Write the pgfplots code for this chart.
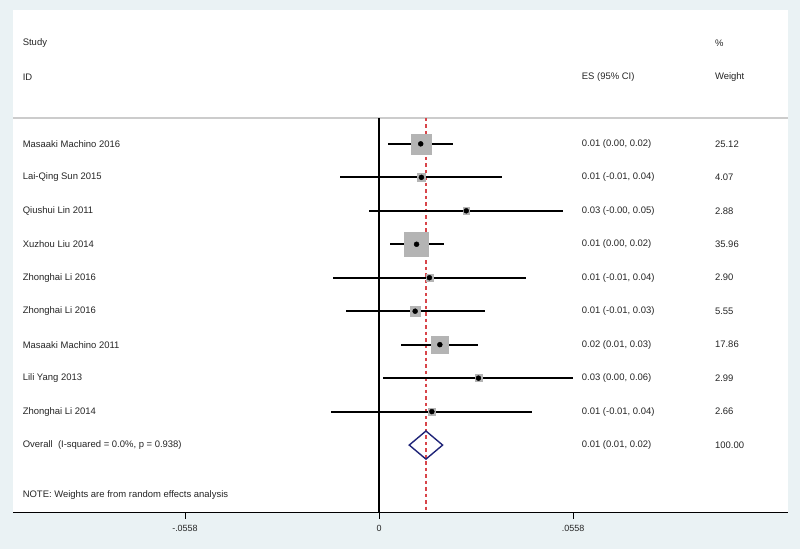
\documentclass[border=0pt]{standalone}
\usepackage{pgfplots}
\pgfplotsset{compat=1.18}
\usepackage{pgfplotstable}
\usepackage{fontspec}
\setmainfont{Liberation Sans}

\definecolor{bgblue}{HTML}{EAF2F4}
\definecolor{boxgray}{HTML}{B4B4B4}
\definecolor{refred}{HTML}{D8454A}
\definecolor{dianavy}{HTML}{1F2478}
\definecolor{txt}{HTML}{262626}

% row est lo hi weight
\pgfplotstableread{
row est lo hi w
1 0.0120 0.0027 0.0214 25.12
2 0.0122 -0.0112 0.0355 4.07
3 0.0251 -0.0028 0.0530 2.88
4 0.0108 0.0032 0.0187 35.96
5 0.0145 -0.0133 0.0423 2.90
6 0.0104 -0.0096 0.0305 5.55
7 0.0175 0.0063 0.0286 17.86
8 0.0286 0.0012 0.0559 2.99
9 0.0152 -0.0139 0.0440 2.66
}\studies

\newcommand{\tf}{\fontsize{9.5}{11}\selectfont}

\begin{document}
\begin{tikzpicture}
\fill[bgblue] (0,0) rectangle (800bp,549bp);
\useasboundingbox (0,0) rectangle (800bp,549bp);
\begin{axis}[
    at={(13bp,37bp)}, anchor=south west,
    width=775bp, height=502bp, scale only axis,
    xmin=-0.10526, xmax=0.11763,
    ymin=-12, ymax=3,
    axis background/.style={fill=white},
    axis x line*=bottom,
    axis y line=none,
    axis line style={black, line width=1pt},
    xtick={-0.0558,0,0.0558},
    xticklabels={-.0558,0,.0558},
    xtick align=outside,
    major tick length=7bp,
    tick style={black, line width=0.8pt},
    xticklabel style={font=\fontsize{9}{10}\selectfont, text=txt, yshift=-3bp},
    /pgf/number format/assume math mode=true,
    ytick=\empty,
    clip=false,
]
% separator line and reference lines
\addplot[black!20, line width=1.2pt] coordinates {(-0.10526,-0.227) (0.11763,-0.227)};
\addplot[black, line width=1.1pt] coordinates {(0,-0.227) (0,-12)};
\addplot[draw=refred, line width=1.3pt, dash pattern=on 3.5pt off 3pt] coordinates {(0.0135,-0.227) (0.0135,-12)};

% weight boxes
\addplot[only marks, mark=square*, boxgray,
    mark options={draw=boxgray, fill=boxgray},
    visualization depends on={2.0*sqrt(\thisrow{w}) \as \msize},
    scatter, scatter/use mapped color={draw=boxgray, fill=boxgray},
    scatter/@pre marker code/.append style={/tikz/mark size=\msize}]
    table[x=est, y expr=-\thisrow{row}] {\studies};

% confidence intervals and point estimates
\addplot[black, only marks, mark=*, mark size=2.5,
    error bars/.cd, x dir=both, x explicit, error mark=none,
    error bar style={black, line width=2pt}]
    table[x=est, y expr=-\thisrow{row},
          x error plus expr=\thisrow{hi}-\thisrow{est},
          x error minus expr=\thisrow{est}-\thisrow{lo}] {\studies};

% overall diamond
\addplot[dianavy, line width=1.4pt, line join=miter] coordinates {
    (0.0087,-10) (0.0135,-9.58) (0.0183,-10) (0.0135,-10.42)} -- cycle;

% text columns
\begin{scope}[every node/.style={anchor=west, text=txt, font=\tf, inner sep=0pt}]
\node at (axis cs:-0.1025,2) {Study};
\node at (axis cs:-0.1025,1) {ID};
\node at (axis cs:0.0583,1) {ES (95\% CI)};
\node at (axis cs:0.0966,2) {\%};
\node at (axis cs:0.0966,1) {Weight};

\node at (axis cs:-0.1025,-1) {Masaaki Machino 2016};
\node at (axis cs:-0.1025,-2) {Lai-Qing Sun 2015};
\node at (axis cs:-0.1025,-3) {Qiushui Lin 2011};
\node at (axis cs:-0.1025,-4) {Xuzhou Liu 2014};
\node at (axis cs:-0.1025,-5) {Zhonghai Li 2016};
\node at (axis cs:-0.1025,-6) {Zhonghai Li 2016};
\node at (axis cs:-0.1025,-7) {Masaaki Machino 2011};
\node at (axis cs:-0.1025,-8) {Lili Yang 2013};
\node at (axis cs:-0.1025,-9) {Zhonghai Li 2014};
\node at (axis cs:-0.1025,-10) {Overall\ \ (I-squared = 0.0\%, p = 0.938)};
\node at (axis cs:-0.1025,-11.5) {NOTE: Weights are from random effects analysis};

\node at (axis cs:0.0583,-1) {0.01 (0.00, 0.02)};
\node at (axis cs:0.0583,-2) {0.01 (-0.01, 0.04)};
\node at (axis cs:0.0583,-3) {0.03 (-0.00, 0.05)};
\node at (axis cs:0.0583,-4) {0.01 (0.00, 0.02)};
\node at (axis cs:0.0583,-5) {0.01 (-0.01, 0.04)};
\node at (axis cs:0.0583,-6) {0.01 (-0.01, 0.03)};
\node at (axis cs:0.0583,-7) {0.02 (0.01, 0.03)};
\node at (axis cs:0.0583,-8) {0.03 (0.00, 0.06)};
\node at (axis cs:0.0583,-9) {0.01 (-0.01, 0.04)};
\node at (axis cs:0.0583,-10) {0.01 (0.01, 0.02)};

\node at (axis cs:0.0966,-1) {25.12};
\node at (axis cs:0.0966,-2) {4.07};
\node at (axis cs:0.0966,-3) {2.88};
\node at (axis cs:0.0966,-4) {35.96};
\node at (axis cs:0.0966,-5) {2.90};
\node at (axis cs:0.0966,-6) {5.55};
\node at (axis cs:0.0966,-7) {17.86};
\node at (axis cs:0.0966,-8) {2.99};
\node at (axis cs:0.0966,-9) {2.66};
\node at (axis cs:0.0966,-10) {100.00};
\end{scope}
\end{axis}
\end{tikzpicture}
\end{document}
